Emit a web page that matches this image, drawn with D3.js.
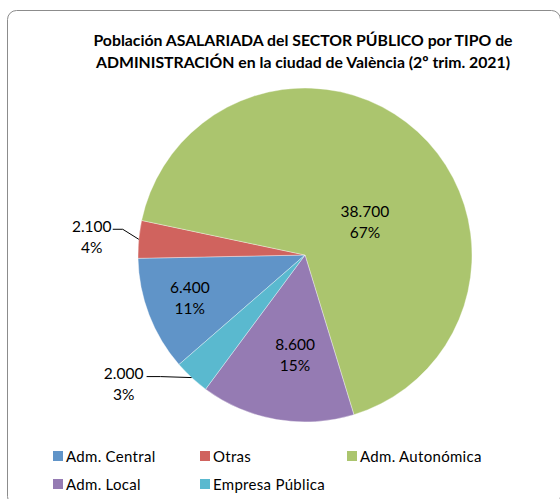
<!DOCTYPE html>
<html>
<head>
<meta charset="utf-8">
<script src="https://cdn.jsdelivr.net/npm/d3@7"></script>
<style>
html,body{margin:0;padding:0;background:#fff;}
svg{display:block;}
text{font-family:Lato,"Open Sans",sans-serif;fill:#000;}
</style>
</head>
<body>
<svg id="chart" width="560" height="499"></svg>
<script>
// ---- data ----
const categories = ["Adm. Central", "Otras", "Adm. Autonómica", "Adm. Local", "Empresa Pública"];
const values = [6400, 2100, 38700, 8600, 2000];
const titleLines = [
  "Población ASALARIADA del SECTOR PÚBLICO por TIPO de",
  "ADMINISTRACIÓN en la ciudad de València (2º trim. 2021)"
];

// ---- styles / layout ----
const colors = ["#6094C8", "#D0635E", "#ABC56E", "#957BB3", "#5AB9CF"];
const W = 560, H = 499;
const cx = 305, cy = 255, R = 167;
const startDeg = 229;
// label placement per slice (polar: angle in degrees, radius fraction); outside labels have leader lines
const labelLayout = [
  {mode: "in", angle: 249.8, k: 0.735},
  {mode: "out", elbow: [-16, -10], end: [-26, -10], text: [-47, -13]},
  {mode: "in", angle: 61, k: 0.41},
  {mode: "in", angle: 185.7, k: 0.6},
  {mode: "out", elbow: [-31, -1], end: [-45, -1], text: [-68, -5]}
];

const svg = d3.select("#chart");
const rad = d => d * Math.PI / 180;
const locale = d3.formatLocale({decimal: ",", thousands: ".", grouping: [3], currency: ["", "€"]});
const fmt = locale.format(",d");
const total = d3.sum(values);

// frame
svg.append("rect")
  .attr("x", 7.5).attr("y", 10.5)
  .attr("width", 553).attr("height", 495)
  .attr("rx", 9).attr("ry", 9)
  .attr("fill", "#fff").attr("stroke", "#8c8c8c").attr("stroke-width", 1);

// title
const title = svg.append("g");
titleLines.forEach((t, i) => {
  title.append("text")
    .attr("x", 303).attr("y", 46 + i * 21.5)
    .attr("text-anchor", "middle")
    .attr("font-weight", "bold")
    .attr("font-size", 15.8)
    .text(t);
});

// pie
const pie = d3.pie().sort(null).value(d => d)
  .startAngle(rad(startDeg)).endAngle(rad(startDeg) + 2 * Math.PI);
const arcs = pie(values);
const arc = d3.arc().innerRadius(0).outerRadius(R);

const g = svg.append("g").attr("transform", `translate(${cx},${cy})`);
g.selectAll("path.slice").data(arcs).enter().append("path")
  .attr("class", "slice")
  .attr("d", arc)
  .attr("fill", (d, i) => colors[i])
  .attr("stroke", "#ffffff").attr("stroke-width", 0.6).attr("stroke-opacity", 0.6);

// labels
const polar = (deg, r) => [r * Math.sin(rad(deg)), -r * Math.cos(rad(deg))];
arcs.forEach((d, i) => {
  const L = labelLayout[i];
  const pct = Math.round(d.value / total * 100) + "%";
  const lines = [fmt(d.value), pct];
  let tx, ty;
  if (L.mode === "in") {
    [tx, ty] = polar(L.angle, L.k * R);
  } else {
    const mid = (d.startAngle + d.endAngle) / 2 * 180 / Math.PI;
    const edge = polar(mid, R);
    const elbow = [edge[0] + L.elbow[0], edge[1] + L.elbow[1]];
    const end = [edge[0] + L.end[0], edge[1] + L.end[1]];
    g.append("polyline")
      .attr("points", [edge, elbow, end].map(p => p.join(",")).join(" "))
      .attr("fill", "none").attr("stroke", "#000").attr("stroke-width", 1);
    tx = edge[0] + L.text[0];
    ty = edge[1] + L.text[1] + 10.5;
  }
  lines.forEach((t, j) => {
    g.append("text")
      .attr("x", tx).attr("y", ty - 10.5 + j * 21)
      .attr("text-anchor", "middle")
      .attr("dominant-baseline", "central")
      .attr("font-size", 15.5)
      .text(t);
  });
});

// legend
const legendCols = [53, 200, 347];
const legendRows = [451, 479];
const leg = svg.append("g");
categories.forEach((c, i) => {
  const x = legendCols[i % 3], y = legendRows[Math.floor(i / 3)];
  leg.append("rect").attr("x", x).attr("y", y).attr("width", 10).attr("height", 10).attr("fill", colors[i]);
  leg.append("text").attr("x", x + 13).attr("y", y + 5)
    .attr("dominant-baseline", "central")
    .attr("font-size", 15).attr("letter-spacing", 0.3)
    .text(c);
});
</script>
</body>
</html>
